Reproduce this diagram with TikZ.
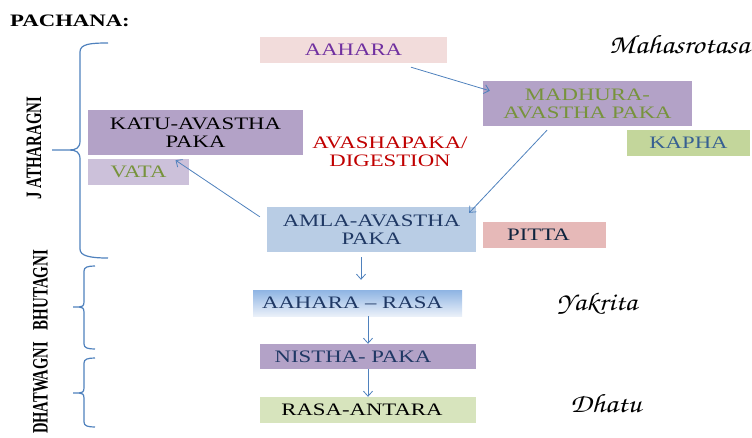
\documentclass[tikz,border=0pt]{standalone}
\usepackage{fontspec}
\setmainfont{Liberation Serif}
\newfontfamily\bxfont[FakeStretch=1.3]{Liberation Serif}
\newfontfamily\vtfont{Liberation Serif}
\newfontfamily\calfont[FakeStretch=1.15]{texgyrechorus-mediumitalic.otf}
\usetikzlibrary{arrows.meta}
\definecolor{lilac}{HTML}{B3A2C7}
\definecolor{lilaclt}{HTML}{CCC1DA}
\definecolor{pinklt}{HTML}{F2DCDB}
\definecolor{greenlt}{HTML}{C3D69B}
\definecolor{greenpale}{HTML}{D7E4BD}
\definecolor{bluelt}{HTML}{B9CDE5}
\definecolor{pinkmd}{HTML}{E6B9B8}
\definecolor{gradtop}{HTML}{8EB4E3}
\definecolor{gradbot}{HTML}{EAF0F9}
\definecolor{purp}{HTML}{7030A0}
\definecolor{olive}{HTML}{77933C}
\definecolor{steel}{HTML}{376092}
\definecolor{navy}{HTML}{1F3864}
\definecolor{navydk}{HTML}{0F243E}
\definecolor{redtx}{HTML}{C00000}
\definecolor{lnblue}{HTML}{4F81BD}
\tikzset{
  box/.style={inner sep=0pt, align=center, font=\bxfont\fontsize{17.5}{18}\selectfont},
  arr/.style={draw=lnblue, line width=0.8pt, -{Straight Barb[length=5pt,width=9pt]}},
  brace/.style={draw=lnblue, line width=1.2pt},
  vtext/.style={rotate=90, inner sep=0pt, font=\vtfont\bfseries\fontsize{22}{22}\selectfont},
  script/.style={anchor=west, inner sep=0pt, font=\calfont\fontsize{25.5}{26}\selectfont}
}
\begin{document}
\begin{tikzpicture}[x=1pt,y=-1pt]
\useasboundingbox (0,0) rectangle (752,437);

% title
\node[anchor=base west, inner sep=0pt, font=\bxfont\bfseries\fontsize{17.5}{18}\selectfont] (title) at (10,26) {PACHANA:};

% boxes
\node[box, fill=pinklt, text=purp, minimum width=187pt, minimum height=26pt] (aahara) at (353.5,50) {AAHARA};
\node[box, fill=lilac, text=olive, minimum width=209pt, minimum height=45pt] (madhura) at (587.5,103.5) {MADHURA-\\AVASTHA PAKA};
\node[box, fill=greenlt, text=steel, minimum width=123pt, minimum height=26pt] (kapha) at (688.5,143) {KAPHA};
\node[box, fill=lilac, text=black, minimum width=215pt, minimum height=45pt] (katu) at (195.5,132.5) {KATU-AVASTHA\\PAKA};
\node[box, fill=lilaclt, text=olive, minimum width=101pt, minimum height=26pt] (vata) at (138.5,172) {VATA};
\node[box, text=redtx] (digest) at (390,152) {AVASHAPAKA/\\DIGESTION};
\node[box, fill=bluelt, text=navy, minimum width=209pt, minimum height=45pt] (amla) at (371.5,229.5) {AMLA-AVASTHA\\PAKA};
\node[box, fill=pinkmd, text=navydk, minimum width=123pt, minimum height=26pt] (pitta) at (544.5,235) {\hspace*{-12pt}PITTA};
\node[box, top color=gradtop, bottom color=gradbot, text=navy, minimum width=209pt, minimum height=26pt] (arasa) at (357.5,303) {\hspace*{-10pt}AAHARA – RASA};
\node[box, fill=lilac, text=navy, minimum width=216pt, minimum height=25pt] (nistha) at (368,356.5) {\hspace*{-30pt}NISTHA- PAKA};
\node[box, fill=greenpale, text=black, minimum width=216pt, minimum height=26pt] (antara) at (368,410) {\hspace*{-12pt}RASA-ANTARA};

% script labels
\node[script, font=\calfont\fontsize{26.5}{27}\selectfont] (maha) at (609,45) {Mahasrotasa};
\node[script] (yak) at (557,304) {Yakrita};
\node[script, font=\calfont\fontsize{26.5}{27}\selectfont] (dhatu) at (570,404) {Dhatu};

% arrows
\draw[arr] ([xshift=57.5pt,yshift=-4pt]aahara.south) -- ([xshift=7pt,yshift=-10pt]madhura.north west);
\draw[arr] ([xshift=-40.5pt,yshift=-4pt]madhura.south) -- ([xshift=-7pt,yshift=-6pt]amla.north east);
\draw[arr] ([xshift=-7pt,yshift=-10pt]amla.north west) -- ([xshift=-20pt,yshift=-5pt]katu.south);
\draw[arr] ([xshift=-10.5pt,yshift=-5pt]amla.south) -- ([xshift=3.5pt,yshift=10pt]arasa.north);
\draw[arr] ([xshift=10.5pt]arasa.south) -- (nistha.north);
\draw[arr] (nistha.south) -- (antara.north);

% braces
\draw[brace] (108,43) .. controls (90,43) and (80,44) .. (80,52) -- (80,141)
  .. controls (80,148) and (76,150) .. (69,150) -- (52,150)
  -- (69,150) .. controls (76,150) and (80,152) .. (80,159) -- (80,249)
  .. controls (80,256) and (90,258) .. (108,258);
\draw[brace] (95,266) .. controls (88,266) and (84,267) .. (84,271) -- (84,302)
  .. controls (84,306) and (82,307) .. (79,307) -- (73,307)
  -- (79,307) .. controls (82,307) and (84,308) .. (84,312) -- (84,344)
  .. controls (84,348) and (88,349) .. (95,349);
\draw[brace] (95,358) .. controls (88,358) and (84,359) .. (84,363) -- (84,388)
  .. controls (84,392) and (82,393) .. (79,393) -- (73,393)
  -- (79,393) .. controls (82,393) and (84,394) .. (84,398) -- (84,422)
  .. controls (84,426) and (88,427) .. (95,427);

% vertical labels
\node[vtext] (jath) at (34,148) {\scalebox{0.68}[1]{J ATHARAGNI}};
\node[vtext] (bhut) at (40.5,290) {\scalebox{0.68}[1]{BHUTAGNI}};
\node[vtext] (dhatw) at (40.5,388) {\scalebox{0.66}[1]{DHATWAGNI}};
\end{tikzpicture}
\end{document}
